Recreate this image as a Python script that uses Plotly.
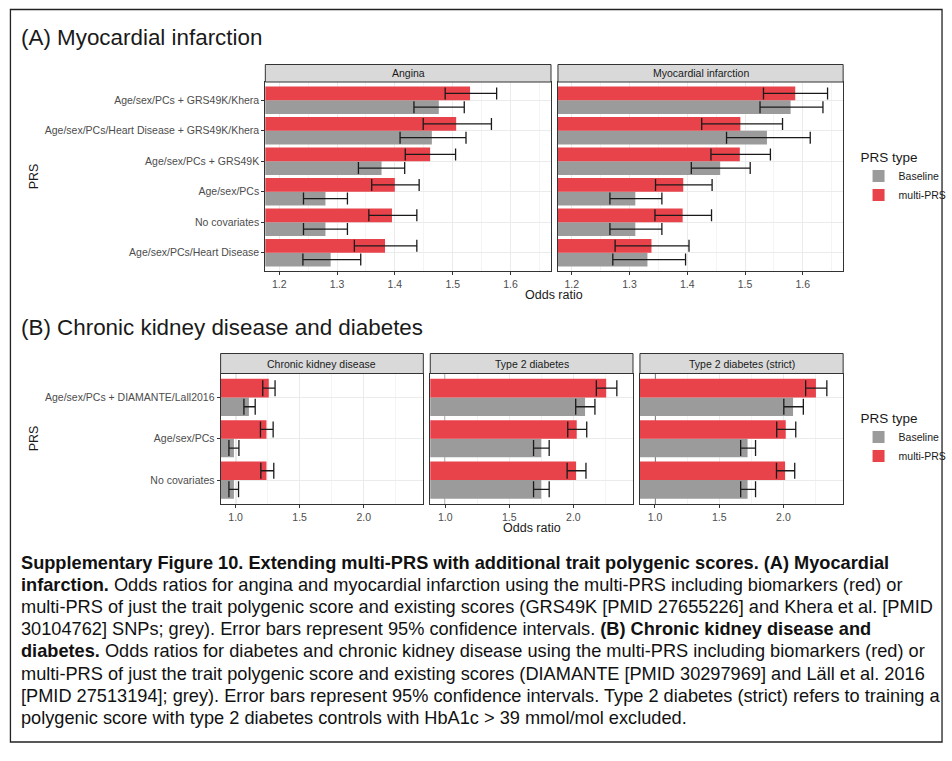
import plotly.graph_objects as go

W, H = 952, 761

# ---------------- data ----------------
cats_a = ["Age/sex/PCs + GRS49K/Khera",
          "Age/sex/PCs/Heart Disease + GRS49K/Khera",
          "Age/sex/PCs + GRS49K",
          "Age/sex/PCs",
          "No covariates",
          "Age/sex/PCs/Heart Disease"]

angina_multi = [1.530, 1.506, 1.461, 1.400, 1.395, 1.383]
angina_multi_lo = [1.487, 1.449, 1.418, 1.360, 1.355, 1.330]
angina_multi_hi = [1.576, 1.567, 1.505, 1.442, 1.438, 1.438]
angina_base = [1.476, 1.464, 1.377, 1.280, 1.280, 1.289]
angina_base_lo = [1.433, 1.409, 1.337, 1.242, 1.242, 1.241]
angina_base_hi = [1.520, 1.523, 1.417, 1.318, 1.318, 1.341]

mi_multi = [1.587, 1.492, 1.491, 1.393, 1.392, 1.338]
mi_multi_lo = [1.532, 1.425, 1.441, 1.345, 1.344, 1.275]
mi_multi_hi = [1.643, 1.565, 1.544, 1.443, 1.442, 1.403]
mi_base = [1.579, 1.538, 1.457, 1.310, 1.310, 1.331]
mi_base_lo = [1.526, 1.468, 1.407, 1.266, 1.266, 1.271]
mi_base_hi = [1.635, 1.613, 1.509, 1.356, 1.356, 1.397]

cats_b = ["Age/sex/PCs + DIAMANTE/Lall2016", "Age/sex/PCs", "No covariates"]

ckd_multi = [1.259, 1.241, 1.241]
ckd_multi_lo = [1.212, 1.194, 1.197]
ckd_multi_hi = [1.308, 1.293, 1.298]
ckd_base = [1.104, 0.987, 0.987]
ckd_base_lo = [1.065, 0.948, 0.948]
ckd_base_hi = [1.153, 1.026, 1.023]

t2d_multi = [2.256, 2.026, 2.021]
t2d_multi_lo = [2.179, 1.956, 1.951]
t2d_multi_hi = [2.339, 2.104, 2.098]
t2d_base = [2.091, 1.749, 1.749]
t2d_base_lo = [2.018, 1.689, 1.689]
t2d_base_hi = [2.168, 1.811, 1.811]

t2s_multi = [2.253, 2.018, 2.013]
t2s_multi_lo = [2.173, 1.948, 1.946]
t2s_multi_hi = [2.338, 2.096, 2.088]
t2s_base = [2.075, 1.721, 1.721]
t2s_base_lo = [2.003, 1.667, 1.667]
t2s_base_hi = [2.155, 1.783, 1.783]

facets_a = ["Angina", "Myocardial infarction"]
facets_b = ["Chronic kidney disease", "Type 2 diabetes", "Type 2 diabetes (strict)"]
series_names = ["Baseline", "multi-PRS"]

xticks_a = [1.2, 1.3, 1.4, 1.5, 1.6]
xticks_b = [1.0, 1.5, 2.0]

caption_lines = [
    "<b>Supplementary Figure 10. Extending multi-PRS with additional trait polygenic scores. (A) Myocardial</b>",
    "<b>infarction.</b> Odds ratios for angina and myocardial infarction using the multi-PRS including biomarkers (red) or",
    "multi-PRS of just the trait polygenic score and existing scores (GRS49K [PMID 27655226] and Khera et al. [PMID",
    "30104762] SNPs; grey). Error bars represent 95% confidence intervals. <b>(B) Chronic kidney disease and</b>",
    "<b>diabetes.</b> Odds ratios for diabetes and chronic kidney disease using the multi-PRS including biomarkers (red) or",
    "multi-PRS of just the trait polygenic score and existing scores (DIAMANTE [PMID 30297969] and Läll et al. 2016",
    "[PMID 27513194]; grey). Error bars represent 95% confidence intervals. Type 2 diabetes (strict) refers to training a",
    "polygenic score with type 2 diabetes controls with HbA1c &gt; 39 mmol/mol excluded.",
]

# ---------------- style ----------------
RED = "#E8424A"
GREY = "#9B9B9B"
FONT = "Liberation Sans, Arial, Helvetica, sans-serif"
TICKC = "#4d4d4d"
BORDER = "#333333"
GRID = "#ebebeb"
GRIDMINOR = "#f4f4f4"


def px(x):
    return x / W


def py(y):
    return 1 - y / H


fig = go.Figure()

panels = [
    ("x", "y", cats_a, angina_base, angina_base_lo, angina_base_hi,
     angina_multi, angina_multi_lo, angina_multi_hi, "legend", 6),
    ("x2", "y2", cats_a, mi_base, mi_base_lo, mi_base_hi,
     mi_multi, mi_multi_lo, mi_multi_hi, None, 6),
    ("x3", "y3", cats_b, ckd_base, ckd_base_lo, ckd_base_hi,
     ckd_multi, ckd_multi_lo, ckd_multi_hi, "legend2", 8),
    ("x4", "y4", cats_b, t2d_base, t2d_base_lo, t2d_base_hi,
     t2d_multi, t2d_multi_lo, t2d_multi_hi, None, 8),
    ("x5", "y5", cats_b, t2s_base, t2s_base_lo, t2s_base_hi,
     t2s_multi, t2s_multi_lo, t2s_multi_hi, None, 8),
]

for (xa, ya, cats, b, blo, bhi, m, mlo, mhi, leg, capw) in panels:
    for name, vals, lo, hi, col in [(series_names[0], b, blo, bhi, GREY),
                                    (series_names[1], m, mlo, mhi, RED)]:
        fig.add_trace(go.Bar(
            y=cats, x=vals, orientation="h", name=name,
            marker=dict(color=col, line=dict(width=0)),
            error_x=dict(type="data", symmetric=False,
                         array=[h - v for h, v in zip(hi, vals)],
                         arrayminus=[v - l for v, l in zip(vals, lo)],
                         color="#1a1a1a", thickness=1.3, width=capw),
            xaxis=xa, yaxis=ya,
            showlegend=leg is not None,
            legend=leg if leg else "legend",
            offsetgroup=name,
        ))

# ---------------- axes ----------------
a_x_domains = [(267, 554.5), (561.5, 848.5)]
a_y = (82, 271)
b_x_domains = [(222, 426), (433, 637), (644, 848.5)]
b_y = (373.5, 504)

common_x = dict(showline=True, mirror=True, linecolor=BORDER, linewidth=1,
                ticks="outside", ticklen=3, tickcolor=BORDER, tickwidth=1,
                showgrid=True, gridcolor=GRID, gridwidth=1, zeroline=False,
                tickfont=dict(family=FONT, size=10.5, color=TICKC))
common_y = dict(showline=True, mirror=True, linecolor=BORDER, linewidth=1,
                showgrid=True, gridcolor=GRID, gridwidth=1, zeroline=False,
                type="category",
                tickfont=dict(family=FONT, size=10.5, color=TICKC))

layout_axes = {}
for i, (x0, x1) in enumerate(a_x_domains):
    k = "" if i == 0 else str(i + 1)
    layout_axes["xaxis" + k] = dict(
        common_x, domain=[px(x0), px(x1)], range=[1.176, 1.67],
        tickvals=xticks_a, ticktext=[f"{v:.1f}" for v in xticks_a],
        anchor="y" + k,
        minor=dict(tickvals=[1.25, 1.35, 1.45, 1.55, 1.65], showgrid=True,
                   gridcolor=GRIDMINOR, gridwidth=0.6, ticks=""))
    layout_axes["yaxis" + k] = dict(
        common_y, domain=[py(a_y[1]), py(a_y[0])], anchor="x" + k,
        categoryorder="array", categoryarray=list(reversed(cats_a)),
        range=[-0.6, 5.6],
        ticks="outside" if i == 0 else "", ticklen=3, tickcolor=BORDER,
        showticklabels=(i == 0))
for i, (x0, x1) in enumerate(b_x_domains):
    k = str(i + 3)
    layout_axes["xaxis" + k] = dict(
        common_x, domain=[px(x0), px(x1)], range=[0.883, 2.465],
        tickvals=xticks_b, ticktext=[f"{v:.1f}" for v in xticks_b],
        anchor="y" + k,
        minor=dict(tickvals=[1.25, 1.75, 2.25], showgrid=True,
                   gridcolor=GRIDMINOR, gridwidth=0.6, ticks=""))
    layout_axes["yaxis" + k] = dict(
        common_y, domain=[py(b_y[1]), py(b_y[0])], anchor="x" + k,
        categoryorder="array", categoryarray=list(reversed(cats_b)),
        range=[-0.58, 2.58],
        ticks="outside" if i == 0 else "", ticklen=3, tickcolor=BORDER,
        showticklabels=(i == 0))

shapes = []
annotations = []

# vertical reference line at OR = 1 in panel B (behind bars)
for i in range(3):
    k = str(i + 3)
    shapes.append(dict(type="line", xref="x" + k, yref="y" + k + " domain",
                       x0=1, x1=1, y0=0, y1=1, layer="below",
                       line=dict(color="#000000", width=1)))


def strip(x0, x1, y0, y1, label):
    shapes.append(dict(type="rect", xref="paper", yref="paper",
                       x0=px(x0), x1=px(x1), y0=py(y1), y1=py(y0),
                       fillcolor="#d9d9d9", line=dict(color=BORDER, width=1),
                       layer="above"))
    annotations.append(dict(xref="paper", yref="paper", x=px((x0 + x1) / 2),
                            y=py((y0 + y1) / 2), text=label, showarrow=False,
                            xanchor="center", yanchor="middle",
                            font=dict(family=FONT, size=10.5, color="#1a1a1a")))


for (x0, x1), lab in zip(a_x_domains, facets_a):
    strip(x0, x1, 64.5, 82, lab)
for (x0, x1), lab in zip(b_x_domains, facets_b):
    strip(x0, x1, 353.5, 373.5, lab)

# panel titles
annotations.append(dict(xref="paper", yref="paper", x=px(19), y=py(37),
                        text="(A) Myocardial infarction", showarrow=False,
                        xanchor="left", yanchor="middle",
                        font=dict(family=FONT, size=22.4, color="#1a1a1a")))
annotations.append(dict(xref="paper", yref="paper", x=px(19), y=py(327),
                        text="(B) Chronic kidney disease and diabetes",
                        showarrow=False, xanchor="left", yanchor="middle",
                        font=dict(family=FONT, size=22.4, color="#1a1a1a")))

# axis titles
for (xc, yc) in [(34, 176.5), (34, 438.5)]:
    annotations.append(dict(xref="paper", yref="paper", x=px(xc), y=py(yc),
                            text="PRS", textangle=-90, showarrow=False,
                            xanchor="center", yanchor="middle",
                            font=dict(family=FONT, size=12.5, color="#1a1a1a")))
for (xc, yc) in [(558, 295), (535, 528)]:
    annotations.append(dict(xref="paper", yref="paper", x=px(xc), y=py(yc),
                            text="Odds ratio", showarrow=False,
                            xanchor="center", yanchor="middle",
                            font=dict(family=FONT, size=12.5, color="#1a1a1a")))

# caption
cap_y0 = 563
cap_dy = 22.1
for i, line in enumerate(caption_lines):
    annotations.append(dict(xref="paper", yref="paper", x=px(19),
                            y=py(cap_y0 + i * cap_dy), text=line,
                            showarrow=False, xanchor="left", yanchor="middle",
                            font=dict(family=FONT, size=18.2, color="#111111")))

# outer frame
shapes.append(dict(type="rect", xref="paper", yref="paper",
                   x0=px(10.5), x1=px(948), y0=py(742), y1=py(9.5),
                   line=dict(color="#222222", width=1.3), layer="above"))

legend_common = dict(xanchor="left", yanchor="top", bgcolor="rgba(0,0,0,0)",
                     font=dict(family=FONT, size=10.5, color="#1a1a1a"),
                     title=dict(text="PRS type",
                                font=dict(family=FONT, size=13.5, color="#1a1a1a")),
                     tracegroupgap=2, itemclick=False, itemdoubleclick=False)

fig.update_layout(
    width=W, height=H,
    margin=dict(l=0, r=0, t=0, b=0),
    paper_bgcolor="white", plot_bgcolor="white",
    barmode="group", bargap=0.1, bargroupgap=0,
    font=dict(family=FONT),
    shapes=shapes, annotations=annotations,
    legend=dict(legend_common, x=px(864), y=py(144)),
    legend2=dict(legend_common, x=px(864), y=py(405)),
    **layout_axes,
)

fig.write_html("out.html",
               config={"displayModeBar": False},
               post_script="document.body.style.margin='0px';"
                           "document.body.style.overflow='hidden';")
